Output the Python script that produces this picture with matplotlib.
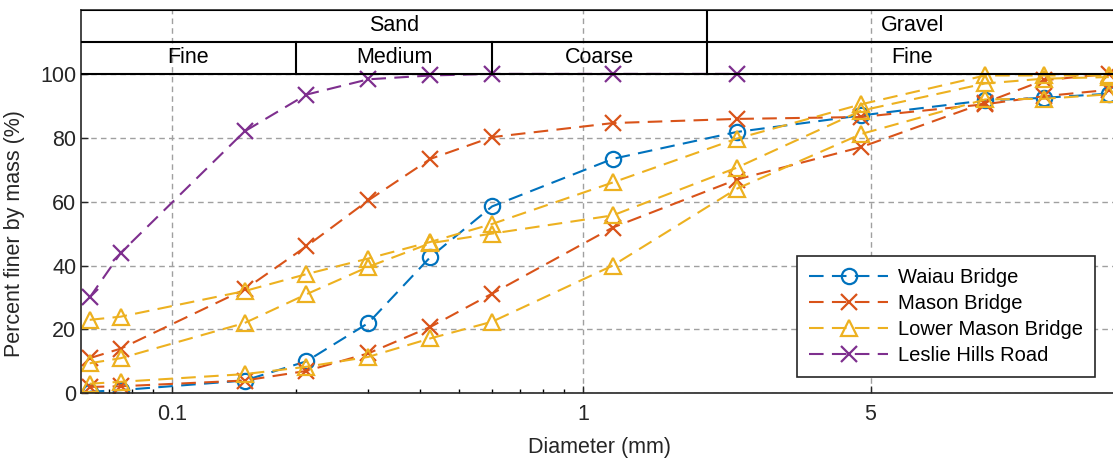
import numpy as np
import matplotlib
matplotlib.use('Agg')
import matplotlib.pyplot as plt
from matplotlib.ticker import FixedLocator, NullFormatter

plt.rcParams['font.family'] = ['Liberation Sans', 'DejaVu Sans']
plt.rcParams['font.size'] = 15.5

# sieve sizes (mm)
sieves = [0.063, 0.075, 0.15, 0.212, 0.3, 0.425, 0.6, 1.18, 2.36, 4.75, 9.5, 13.2, 19]

# percent finer by mass
waiau = [0.5, 1, 4, 10, 22, 42.7, 58.5, 73.4, 81.8, 87, 91.7, 92.5, 93.8]
mason_1 = [11, 14, 32.5, 46, 60.4, 73.4, 80.2, 84.6, 85.9, 86.5, 90.5, 93, 95]
mason_2 = [2, 2.2, 4, 7, 12.5, 20.8, 31.2, 51.9, 66.9, 77.1, 91, 98, 100]
lower_mason_1 = [23, 24, 32, 37.3, 42.2, 47.4, 53, 66, 79.7, 90.5, 99.5, 99.5, 99.5]
lower_mason_2 = [9.4, 11, 22, 31, 39.6, 47, 50, 55.7, 70.6, 88.5, 97, 98.5, 99]
lower_mason_3 = [3, 3.6, 6, 8.3, 11.4, 17.2, 22.4, 40, 64, 81.2, 92, 92.2, 93.6]
leslie_sieves = sieves[:9]
leslie = [30, 44, 82, 93.5, 98.3, 99.5, 100, 100, 100]

blue = '#0072BD'
orange = '#D95319'
yellow = '#EDB120'
purple = '#7E2F8E'

fig = plt.figure(figsize=(11.13, 4.61), dpi=100)
ax = fig.add_axes([81 / 1113, 1 - 393.3 / 461, 1037 / 1113, 383.3 / 461])

dash = (0, (7, 4))
kw = dict(linestyle=dash, lw=1.5, ms=11, mew=1.6, mfc='none')

ax.plot(sieves, waiau, marker='o', color=blue, label='Waiau Bridge', **kw)
ax.plot(sieves, mason_1, marker='x', color=orange, label='Mason Bridge', **kw)
ax.plot(sieves, mason_2, marker='x', color=orange, **kw)
ax.plot(sieves, lower_mason_1, marker='^', color=yellow, label='Lower Mason Bridge', **kw)
ax.plot(sieves, lower_mason_2, marker='^', color=yellow, **kw)
ax.plot(sieves, lower_mason_3, marker='^', color=yellow, **kw)
ax.plot(leslie_sieves, leslie, marker='x', color=purple, label='Leslie Hills Road', **kw)

ax.set_xscale('log')
ax.set_xlim(0.06, 20)
ax.set_ylim(0, 120)
ax.set_yticks([0, 20, 40, 60, 80, 100])
ax.xaxis.set_major_locator(FixedLocator([0.1, 1, 5]))
ax.set_xticklabels(['0.1', '1', '5'])
ax.xaxis.set_minor_locator(FixedLocator([0.07, 0.08, 0.09, 0.2, 0.3, 0.4, 0.5, 0.6, 0.7, 0.8, 0.9]))
ax.xaxis.set_minor_formatter(NullFormatter())
ax.tick_params(direction='in', length=5, width=1, colors='#262626', labelcolor='#262626')
ax.tick_params(which='minor', direction='in', length=3, width=1)
ax.tick_params(axis='x', pad=8)

ax.grid(True, which='major', color='#a0a0a0', linestyle=(0, (4, 3)), lw=1)

for s in ax.spines.values():
    s.set_color('#262626')
    s.set_linewidth(1.2)

# grain size classification table
tcol = 'black'
ax.axhline(100, color=tcol, lw=1.5, zorder=5)
ax.axhline(110, color=tcol, lw=1.5, zorder=5)
ax.axhline(120, color=tcol, lw=1.5, zorder=5)
ax.plot([2, 2], [100, 120], color=tcol, lw=1.5, zorder=5)
ax.plot([0.2, 0.2], [100, 110], color=tcol, lw=1.5, zorder=5)
ax.plot([0.6, 0.6], [100, 110], color=tcol, lw=1.5, zorder=5)

def mid(a, b):
    return np.sqrt(a * b)

ax.text(mid(0.06, 2), 115, 'Sand', ha='center', va='center')
ax.text(mid(2, 20), 115, 'Gravel', ha='center', va='center')
ax.text(mid(0.06, 0.2), 105, 'Fine', ha='center', va='center')
ax.text(mid(0.2, 0.6), 105, 'Medium', ha='center', va='center')
ax.text(mid(0.6, 2), 105, 'Coarse', ha='center', va='center')
ax.text(mid(2, 20), 105, 'Fine', ha='center', va='center')

ax.set_xlabel('Diameter (mm)', color='#262626', labelpad=8)
ax.set_ylabel('Percent finer by mass (%)', color='#262626')
ax.yaxis.set_label_coords(-0.054, 50 / 120)

leg = ax.legend(loc='lower right', bbox_to_anchor=(0.978, 0.0425), borderaxespad=0,
                fancybox=False, edgecolor='#262626', framealpha=1, fontsize=14.5,
                handlelength=3.9, labelspacing=0.35, borderpad=0.6, handletextpad=0.5)
leg.get_frame().set_linewidth(1.2)

fig.savefig('out.png', dpi=100)
